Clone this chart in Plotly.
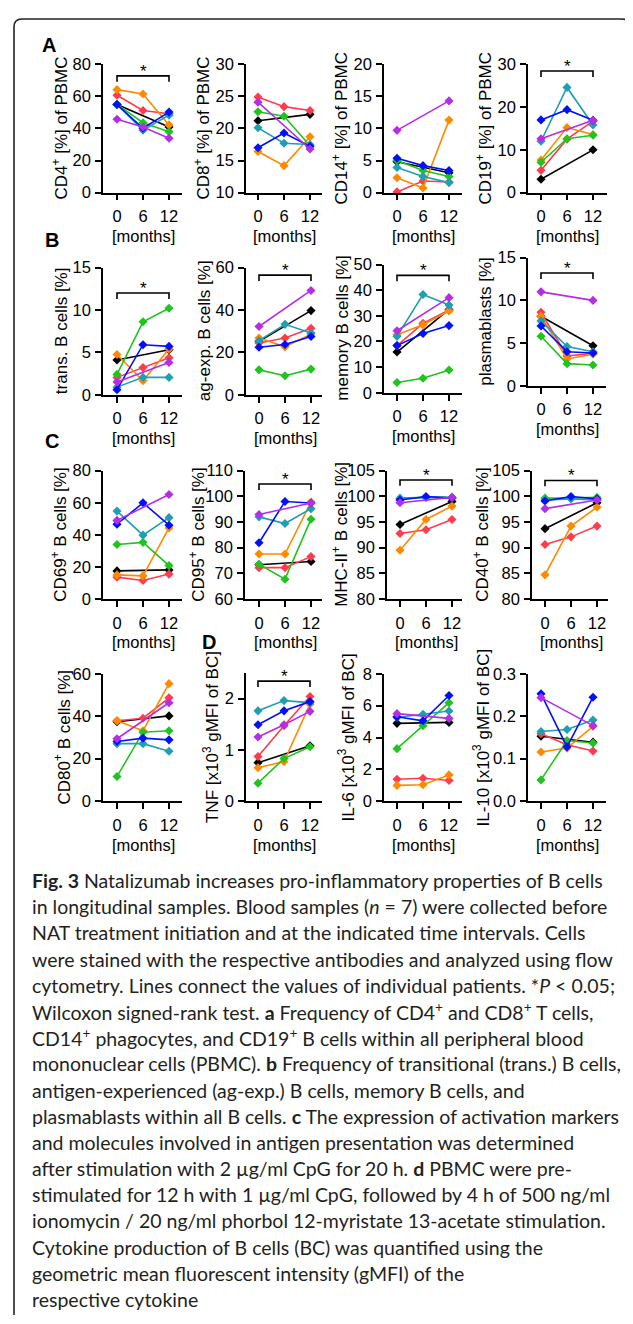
import plotly.graph_objects as go

# page pixel -> figure coordinates (the page body has an 8 px margin)
OFF = 8
FW, FH = 633 - OFF, 1324 - OFF


def fx(px):
    return (px - OFF) / FW


def fy(py):
    return 1 - (py - OFF) / FH


MONTHS = [0, 6, 12]
MONTH_TICKS = ["0", "6", "12"]
PATIENT_COLORS = ["#000000", "#ff3b4e", "#ff8a00", "#1fc41f", "#1f9eb4", "#0010ff", "#b42ee8"]

# values per patient (order: black, red, orange, green, teal, blue, purple) at 0, 6, 12 months
cd4 = [[55.0, None, 40.9], [60.7, 51.2, 49.2], [64.2, 61.5, 42.2], [55.0, 43.6, 38.0],
       [55.0, 38.9, 48.3], [54.9, 40.1, 50.2], [45.7, 40.9, 33.9]]
cd8 = [[21.2, None, 22.2], [24.9, 23.4, 22.8], [16.4, 14.2, 18.7], [22.6, 21.9, 17.3],
       [20.1, 17.7, 17.5], [17.0, 19.3, 17.2], [24.1, None, 16.8]]
cd14 = [[4.8, None, 3.1], [0.1, 1.8, 1.65], [2.3, 0.7, 11.3], [5.0, 3.45, 2.5],
        [3.9, 2.5, 1.55], [5.35, 4.2, 3.45], [9.7, None, 14.3]]
cd19 = [[3.1, None, 10.0], [5.2, 12.5, 16.7], [7.6, 15.2, 13.6], [7.1, 12.6, 13.4],
        [12.0, 24.6, 15.8], [17.0, 19.4, 16.9], [12.6, None, 16.9]]
trans_b = [[4.1, None, 5.3], [2.05, 3.2, 4.35], [4.75, 1.65, 5.4], [2.4, 8.6, 10.2],
           [0.9, 2.05, 2.05], [0.6, 5.9, 5.7], [1.5, None, 3.8]]
agexp_b = [[25.2, None, 39.7], [24.4, 26.8, 31.4], [26.8, 22.6, 28.6], [11.75, 9.0, 12.1],
           [25.5, 33.2, 29.1], [22.4, 23.7, 27.5], [32.2, None, 49.2]]
memory_b = [[15.9, None, 32.5], [18.4, 27.1, 32.3], [22.6, 26.5, 31.9], [4.0, 5.65, 8.9],
            [22.0, 38.3, 34.2], [18.4, 23.1, 26.2], [24.2, None, 37.1]]
plasmablasts = [[8.15, None, 4.7], [8.6, 3.5, 3.8], [8.15, 3.15, 3.7], [5.8, 2.6, 2.45],
                [7.6, 4.6, 4.0], [7.0, 4.0, 3.85], [11.0, None, 10.0]]
cd69 = [[17.5, None, 18.1], [13.6, 11.5, 15.5], [15.0, 14.4, 44.3], [34.0, 35.3, 20.8],
        [54.8, 39.8, 50.7], [46.6, 60.0, 46.0], [49.0, None, 65.2]]
cd95 = [[73.3, None, 74.6], [72.2, 72.2, 76.5], [77.5, 77.5, 97.8], [73.5, 67.7, 91.1],
        [92.0, 89.4, 95.2], [81.9, 98.0, 97.4], [92.9, None, 97.4]]
mhc2 = [[94.5, None, 99.0], [92.75, 93.5, 95.5], [89.5, 95.5, 98.1], [99.5, 99.8, 99.8],
        [99.65, 99.8, 99.8], [99.3, 99.97, 99.65], [98.75, None, 99.8]]
cd40 = [[93.7, None, 98.75], [90.6, 92.1, 94.2], [84.7, 94.2, 97.9], [99.65, 99.65, 99.8],
        [99.3, 99.5, 99.3], [99.1, 99.97, 99.5], [97.6, None, 99.3]]
cd80 = [[37.4, None, 40.2], [37.9, 39.1, 48.7], [37.9, 33.2, 55.4], [11.6, 32.5, 33.2],
        [27.1, 27.1, 23.5], [28.1, 29.7, 28.9], [29.4, None, 46.4]]
tnf = [[0.75, None, 1.08], [0.87, 1.47, 2.04], [0.65, 0.77, 1.89], [0.35, 0.83, 1.06],
       [1.76, 1.96, 1.92], [1.49, 1.76, 1.94], [1.25, 1.49, 1.75]]
il6 = [[4.89, None, 4.95], [1.38, 1.44, 1.3], [0.99, 1.03, 1.65], [3.3, 4.74, 6.19],
       [5.26, 5.46, 5.67], [5.3, 5.05, 6.64], [5.5, None, 5.2]]
il10 = [[0.153, None, 0.139], [0.159, 0.133, 0.118], [0.116, 0.125, 0.176], [0.05, 0.143, 0.137],
        [0.164, 0.169, 0.191], [0.253, 0.128, 0.245], [0.244, None, 0.178]]

titles = ["CD4<sup>+</sup> [%] of PBMC", "CD8<sup>+</sup> [%] of PBMC", "CD14<sup>+</sup> [%] of PBMC",
          "CD19<sup>+</sup> [%] of PBMC", "trans. B cells [%]", "ag-exp. B cells [%]",
          "memory B cells [%]", "plasmablasts [%]", "CD69<sup>+</sup> B cells [%]",
          "CD95<sup>+</sup> B cells [%]", "MHC-II<sup>+</sup> B cells [%]", "CD40<sup>+</sup> B cells [%]",
          "CD80<sup>+</sup> B cells [%]", "TNF [x10<sup>3</sup> gMFI of BC]",
          "IL-6 [x10<sup>3</sup> gMFI of BC]", "IL-10 [x10<sup>3</sup> gMFI of BC]"]
datasets = [cd4, cd8, cd14, cd19, trans_b, agexp_b, memory_b, plasmablasts,
            cd69, cd95, mhc2, cd40, cd80, tnf, il6, il10]
y_ranges = [(0, 80), (10, 30), (0, 20), (0, 30), (0, 15), (0, 60), (0, 50), (0, 15),
            (0, 80), (60, 110), (80, 105), (80, 105), (0, 60), (0, 2.5), (0, 8), (0, 0.3)]
y_ticks = [[0, 20, 40, 60, 80], [10, 15, 20, 25, 30], [0, 5, 10, 15, 20], [0, 10, 20, 30],
           [0, 5, 10, 15], [0, 20, 40, 60], [0, 10, 20, 30, 40, 50], [0, 5, 10, 15],
           [0, 20, 40, 60, 80], [60, 70, 80, 90, 100, 110], [80, 85, 90, 95, 100, 105],
           [80, 85, 90, 95, 100, 105], [0, 20, 40, 60], [0, 1, 2], [0, 2, 4, 6, 8],
           [0.0, 0.1, 0.2, 0.3]]
# significance bracket level (None = no bracket)
brackets = [72.8, None, None, 28.45, 12.0, 56.4, 45.8, 13.2,
            None, 104.8, 103.2, 103.1, None, 2.34, None, None]

# layout in page pixels: y-axis x, x of month 0, right end, top, bottom, title centre x
pos = [(103, 117, 182, 56, 186, 60), (246, 258, 322, 56, 186, 202),
       (384, 397, 462, 56, 186, 340), (528, 541, 607, 56, 186, 484),
       (103, 117, 182, 262, 391, 61), (246, 259, 322, 262, 391, 204),
       (384, 397, 462, 259, 389, 343), (528, 541, 606, 252, 382, 486),
       (103, 117, 182, 468, 598, 59), (245, 259, 322, 468, 598, 197),
       (387, 400, 462, 468, 598, 340), (532, 545, 608, 468, 598, 481),
       (103, 117, 182, 674, 803, 62), (246, 258, 322, 673, 803, 211),
       (384, 397, 462, 674, 803, 346), (528, 541, 606, 674, 803, 481)]
PX_PER_MONTH = 52 / 12

FONT = "Liberation Sans, Arial, sans-serif"
fig = go.Figure()
annotations = []
shapes = []
layout = {}

for i, (data, title, yr, yt, br, p) in enumerate(zip(datasets, titles, y_ranges, y_ticks, brackets, pos)):
    n = i + 1
    xa = "xaxis" if n == 1 else f"xaxis{n}"
    ya = "yaxis" if n == 1 else f"yaxis{n}"
    xr = "x" if n == 1 else f"x{n}"
    yref = "y" if n == 1 else f"y{n}"
    ax_px, x0_px, right_px, top_px, bot_px, tx = p
    layout[xa] = dict(domain=[fx(ax_px), fx(right_px)],
                      range=[(ax_px - x0_px) / PX_PER_MONTH, (right_px - x0_px) / PX_PER_MONTH],
                      anchor=yref, tickvals=MONTHS, ticktext=MONTH_TICKS,
                      showline=True, linecolor="black", linewidth=1.6, ticks="outside",
                      ticklen=6, tickwidth=1.6, tickcolor="black", showgrid=False, zeroline=False,
                      tickfont=dict(family=FONT, size=16.5, color="black"), ticklabelstandoff=2)
    layout[ya] = dict(domain=[fy(bot_px), fy(top_px)], range=list(yr), anchor=xr,
                      tickvals=yt, tickformat=".1f" if n == 16 else None,
                      showline=True, linecolor="black", linewidth=1.6, ticks="outside",
                      ticklen=6, tickwidth=1.6, tickcolor="black", showgrid=False, zeroline=False,
                      tickfont=dict(family=FONT, size=16.5, color="black"), ticklabelstandoff=1)
    for vals, col in zip(data, PATIENT_COLORS):
        fig.add_trace(go.Scatter(x=MONTHS, y=vals, xaxis=xr, yaxis=yref, mode="lines+markers",
                                 connectgaps=True, cliponaxis=False, showlegend=False,
                                 line=dict(color=col, width=1.6),
                                 marker=dict(symbol="diamond", size=7, color=col)))
    # y title
    annotations.append(dict(text=title, xref="paper", yref="paper", x=fx(tx),
                            y=fy((top_px + bot_px) / 2), xanchor="center", yanchor="middle",
                            textangle=-90, showarrow=False, borderpad=0,
                            font=dict(family=FONT, size=17, color="black")))
    # x title
    annotations.append(dict(text="[months]", xref=xr, yref="paper", x=6,
                            y=fy(bot_px + 44), xanchor="center", yanchor="middle",
                            showarrow=False, borderpad=0,
                            font=dict(family=FONT, size=16.5, color="black")))
    if br is not None:
        drop = 6 * (yr[1] - yr[0]) / (bot_px - top_px)
        shapes.append(dict(type="path", xref=xr, yref=yref,
                           path=f"M 0,{br - drop} L 0,{br} L 12,{br} L 12,{br - drop}",
                           line=dict(color="black", width=1.6)))
        annotations.append(dict(text="*", xref=xr, yref=yref, x=6, y=br, xanchor="center",
                                yanchor="bottom", yshift=-6, showarrow=False, borderpad=0,
                                font=dict(family=FONT, size=17, color="black")))

# panel letters
for letter, lx, ly in [("A", 49, 36), ("B", 52, 234), ("C", 52, 438), ("D", 209, 642)]:
    annotations.append(dict(text=f"<b>{letter}</b>", xref="paper", yref="paper", x=fx(lx),
                            y=fy(ly), xanchor="center", yanchor="middle", showarrow=False,
                            font=dict(family=FONT, size=20, color="black")))

caption = [
    "<b>Fig. 3</b> Natalizumab increases pro-inflammatory properties of B cells",
    "in longitudinal samples. Blood samples (<i>n</i> = 7) were collected before",
    "NAT treatment initiation and at the indicated time intervals. Cells",
    "were stained with the respective antibodies and analyzed using flow",
    "cytometry. Lines connect the values of individual patients. *<i>P</i> &lt; 0.05;",
    "Wilcoxon signed-rank test. <b>a</b> Frequency of CD4<sup>+</sup> and CD8<sup>+</sup> T cells,",
    "CD14<sup>+</sup> phagocytes, and CD19<sup>+</sup> B cells within all peripheral blood",
    "mononuclear cells (PBMC). <b>b</b> Frequency of transitional (trans.) B cells,",
    "antigen-experienced (ag-exp.) B cells, memory B cells, and",
    "plasmablasts within all B cells. <b>c</b> The expression of activation markers",
    "and molecules involved in antigen presentation was determined",
    "after stimulation with 2 µg/ml CpG for 20 h. <b>d</b> PBMC were pre-",
    "stimulated for 12 h with 1 µg/ml CpG, followed by 4 h of 500 ng/ml",
    "ionomycin / 20 ng/ml phorbol 12-myristate 13-acetate stimulation.",
    "Cytokine production of B cells (BC) was quantified using the",
    "geometric mean fluorescent intensity (gMFI) of the",
    "respective cytokine",
]
for k, line in enumerate(caption):
    yc = 883.5 + k * 26.55
    annotations.append(dict(text=line, xref="paper", yref="paper", x=fx(31), y=fy(yc),
                            xanchor="left", yanchor="middle", showarrow=False, borderpad=0,
                            font=dict(family="Lato, Open Sans, sans-serif", size=19.5, color="#231f20")))

# frame
shapes.append(dict(type="path", xref="paper", yref="paper",
                   path=(f"M {fx(14)},{fy(1324)} L {fx(14)},{fy(18)} Q {fx(14)},{fy(10)} {fx(22)},{fy(10)} "
                         f"L {fx(622)},{fy(10)} Q {fx(630)},{fy(10)} {fx(630)},{fy(18)} L {fx(630)},{fy(24)}"),
                   line=dict(color="#222222", width=1.6)))

fig.update_layout(width=FW, height=FH, margin=dict(l=0, r=0, t=0, b=0),
                  paper_bgcolor="white", plot_bgcolor="rgba(0,0,0,0)",
                  annotations=annotations, shapes=shapes, **layout)
fig.write_html("out.html")
